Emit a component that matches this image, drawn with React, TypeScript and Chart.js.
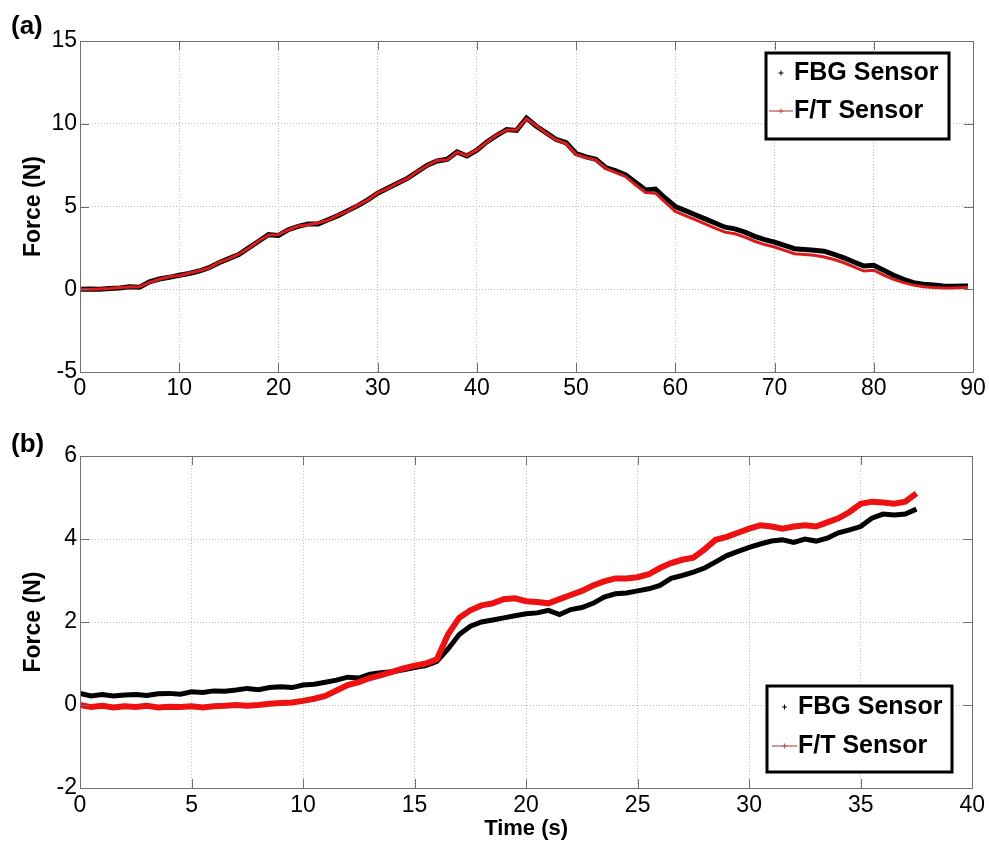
import React, { useEffect, useRef } from 'react';
import { Chart, registerables } from 'chart.js';

Chart.register(...registerables);

const FONT = "'Liberation Sans', Arial, Helvetica, sans-serif";

// ---------- Panel (a) data ----------
const timeA = [
  0, 1, 2, 3, 4, 5, 6, 7, 8, 9,
  10, 11, 12, 13, 14, 15, 16, 17, 18, 19,
  20, 21, 22, 23, 24, 25, 26, 27, 28, 29,
  30, 31, 32, 33, 34, 35, 36, 37, 38, 39,
  40, 41, 42, 43, 44, 45, 46, 47, 48, 49,
  50, 51, 52, 53, 54, 55, 56, 57, 58, 59,
  60, 61, 62, 63, 64, 65, 66, 67, 68, 69,
  70, 71, 72, 73, 74, 75, 76, 77, 78, 79,
  80, 81, 82, 83, 84, 85, 86, 87, 88, 89,
  89.5,
];
const fbgA = [
  0.0, 0.02, 0.0, 0.05, 0.08, 0.15, 0.12, 0.45, 0.62, 0.72,
  0.85, 0.95, 1.1, 1.3, 1.6, 1.85, 2.1, 2.5, 2.9, 3.3,
  3.25, 3.6, 3.8, 3.95, 3.95, 4.2, 4.45, 4.75, 5.05, 5.4,
  5.8, 6.1, 6.4, 6.7, 7.1, 7.5, 7.75, 7.85, 8.3, 8.05,
  8.4, 8.9, 9.3, 9.65, 9.6, 10.35, 9.85, 9.45, 9.05, 8.85,
  8.2, 8.0, 7.85, 7.35, 7.15, 6.9, 6.45, 6.0, 6.05, 5.5,
  5.0, 4.75, 4.5, 4.25, 4.0, 3.75, 3.65, 3.45, 3.2, 3.0,
  2.85, 2.65, 2.45, 2.4, 2.35, 2.3, 2.1, 1.9, 1.65, 1.4,
  1.45, 1.15, 0.85, 0.6, 0.4, 0.3, 0.25, 0.2, 0.18, 0.2,
  0.2,
];
const ftA = [
  0.0, 0.0, 0.02, 0.04, 0.1, 0.13, 0.15, 0.42, 0.6, 0.75,
  0.83, 0.97, 1.12, 1.28, 1.62, 1.83, 2.12, 2.48, 2.92, 3.28,
  3.3, 3.58, 3.82, 3.9, 4.0, 4.18, 4.48, 4.72, 5.08, 5.38,
  5.82, 6.08, 6.42, 6.68, 7.12, 7.48, 7.78, 7.82, 8.28, 8.08,
  8.42, 8.88, 9.32, 9.62, 9.62, 10.3, 9.88, 9.42, 9.02, 8.8,
  8.15, 7.95, 7.8, 7.3, 7.05, 6.8, 6.3, 5.85, 5.8, 5.25,
  4.7, 4.45, 4.2, 3.95, 3.7, 3.45, 3.35, 3.15, 2.9, 2.7,
  2.55, 2.35, 2.15, 2.1, 2.05, 1.95, 1.8, 1.6, 1.35, 1.1,
  1.15, 0.85, 0.6, 0.4, 0.25, 0.15, 0.1, 0.08, 0.08, 0.1,
  0.12,
];

// ---------- Panel (b) data ----------
const timeB = [
  0, 0.5, 1, 1.5, 2, 2.5, 3, 3.5, 4, 4.5,
  5, 5.5, 6, 6.5, 7, 7.5, 8, 8.5, 9, 9.5,
  10, 10.5, 11, 11.5, 12, 12.5, 13, 13.5, 14, 14.5,
  15, 15.5, 16, 16.5, 17, 17.5, 18, 18.5, 19, 19.5,
  20, 20.5, 21, 21.5, 22, 22.5, 23, 23.5, 24, 24.5,
  25, 25.5, 26, 26.5, 27, 27.5, 28, 28.5, 29, 29.5,
  30, 30.5, 31, 31.5, 32, 32.5, 33, 33.5, 34, 34.5,
  35, 35.5, 36, 36.5, 37, 37.5,
];
const fbgB = [
  0.28, 0.22, 0.25, 0.22, 0.24, 0.25, 0.23, 0.27, 0.28, 0.26,
  0.32, 0.3, 0.34, 0.33, 0.36, 0.4, 0.37, 0.42, 0.44, 0.42,
  0.48, 0.5, 0.55, 0.6, 0.67, 0.65, 0.74, 0.78, 0.8, 0.85,
  0.9, 0.95, 1.05, 1.35, 1.7, 1.9, 2.0, 2.05, 2.1, 2.15,
  2.2, 2.22, 2.28, 2.18, 2.3, 2.35, 2.45, 2.6, 2.68, 2.7,
  2.75, 2.8, 2.88, 3.05, 3.12, 3.2, 3.3, 3.45, 3.6, 3.7,
  3.8, 3.88, 3.95, 3.98, 3.92, 4.0, 3.95, 4.02, 4.15, 4.22,
  4.3, 4.5, 4.6, 4.58, 4.6, 4.72,
];
const ftB = [
  0.0, -0.05, -0.02, -0.06, -0.03, -0.05, -0.02, -0.06, -0.04, -0.05,
  -0.03, -0.06, -0.03, -0.02, 0.0, -0.02, 0.0, 0.03, 0.05, 0.06,
  0.1, 0.15, 0.22, 0.35, 0.48, 0.55, 0.65, 0.72, 0.8, 0.88,
  0.95, 1.0, 1.1, 1.7, 2.1, 2.28, 2.4, 2.45, 2.55, 2.57,
  2.5, 2.48, 2.45, 2.55, 2.65, 2.75, 2.88, 2.98, 3.05, 3.05,
  3.08, 3.15, 3.3, 3.42, 3.5, 3.55, 3.75, 3.98, 4.05, 4.15,
  4.25, 4.33, 4.3, 4.25, 4.3, 4.33, 4.3, 4.4, 4.5, 4.65,
  4.85, 4.9, 4.88, 4.85, 4.9, 5.1,
];

const seriesNames = ['FBG Sensor', 'F/T Sensor'];

const toPoints = (xs: number[], ys: number[]) => xs.map((x, i) => ({ x, y: ys[i] }));

// Box around the axes plus MATLAB-style inward tick marks on all four sides
const frameTicksPlugin = {
  id: 'frameTicks',
  afterDatasetsDraw(chart: any) {
    const { ctx, chartArea: a, scales } = chart;
    const L = 9;
    ctx.save();
    ctx.strokeStyle = '#707070';
    ctx.lineWidth = 1;
    ctx.setLineDash([]);
    ctx.beginPath();
    scales.x.ticks.forEach((t: any) => {
      const px = Math.round(scales.x.getPixelForValue(t.value)) + 0.5;
      ctx.moveTo(px, a.bottom); ctx.lineTo(px, a.bottom - L);
      ctx.moveTo(px, a.top); ctx.lineTo(px, a.top + L);
    });
    scales.y.ticks.forEach((t: any) => {
      const py = Math.round(scales.y.getPixelForValue(t.value)) + 0.5;
      ctx.moveTo(a.left, py); ctx.lineTo(a.left + L, py);
      ctx.moveTo(a.right, py); ctx.lineTo(a.right - L, py);
    });
    ctx.stroke();
    ctx.strokeRect(Math.round(a.left) + 0.5, Math.round(a.top) + 0.5,
      Math.round(a.right - a.left), Math.round(a.bottom - a.top));
    ctx.restore();
  },
};

// Boxed legend inside the axes
const boxLegendPlugin = {
  id: 'boxLegend',
  afterDraw(chart: any, _args: any, opts: any) {
    if (!opts || !opts.width) return;
    const { ctx } = chart;
    const { left, top, width, height, textX, rows, swatchX0, swatchX1 } = opts;
    ctx.save();
    ctx.fillStyle = '#ffffff';
    ctx.fillRect(left, top, width, height);
    ctx.lineWidth = 3;
    ctx.strokeStyle = '#000000';
    ctx.strokeRect(left, top, width, height);
    ctx.font = `bold 25px ${FONT}`;
    ctx.textBaseline = 'middle';
    ctx.textAlign = 'left';
    chart.data.datasets.forEach((ds: any, i: number) => {
      const y = rows[i];
      const mid = (swatchX0 + swatchX1) / 2;
      if (ds.legendKind === 'line') {
        ctx.strokeStyle = ds.legendColor;
        ctx.lineWidth = 1.2;
        ctx.beginPath();
        ctx.moveTo(swatchX0, y); ctx.lineTo(swatchX1, y);
        ctx.stroke();
      }
      ctx.strokeStyle = ds.legendColor;
      ctx.lineWidth = 1;
      ctx.beginPath();
      ctx.moveTo(mid - 2.5, y); ctx.lineTo(mid + 2.5, y);
      ctx.moveTo(mid, y - 2.5); ctx.lineTo(mid, y + 2.5);
      ctx.stroke();
      ctx.fillStyle = '#000';
      ctx.fillText(ds.label, textX, y);
    });
    ctx.restore();
  },
};

type PanelOpts = {
  xs: number[];
  fbg: number[];
  ft: number[];
  xMax: number;
  xStep: number;
  yMin: number;
  yMax: number;
  yStep: number;
  padTop: number;
  xAxisHeight: number;
  xTickPad: number;
  xTitle: string | null;
  fbgWidth: number;
  ftWidth: number;
  ftColor: string;
  legend: any;
};

function makeConfig(p: PanelOpts): any {
  return {
    type: 'line',
    data: {
      datasets: [
        {
          label: seriesNames[0],
          data: toPoints(p.xs, p.fbg),
          borderColor: '#000000',
          borderWidth: p.fbgWidth,
          pointRadius: 0,
          tension: 0,
          order: 1,
          legendKind: 'marker',
          legendColor: '#000000',
        },
        {
          label: seriesNames[1],
          data: toPoints(p.xs, p.ft),
          borderColor: p.ftColor,
          borderWidth: p.ftWidth,
          pointRadius: 0,
          tension: 0,
          order: 0,
          legendKind: 'line',
          legendColor: '#c0504d',
        },
      ],
    },
    options: {
      responsive: false,
      animation: false,
      devicePixelRatio: 1,
      layout: { padding: { top: p.padTop, right: 16, left: 0, bottom: 0 } },
      plugins: {
        legend: { display: false },
        tooltip: { enabled: false },
        boxLegend: p.legend,
      },
      scales: {
        x: {
          type: 'linear',
          min: 0,
          max: p.xMax,
          afterFit: (s: any) => { s.height = p.xAxisHeight; },
          ticks: {
            stepSize: p.xStep,
            autoSkip: false,
            maxRotation: 0,
            padding: p.xTickPad,
            color: '#000',
            font: { family: FONT, size: 23 },
          },
          grid: { color: '#bdbdbd', lineWidth: 1, drawTicks: false },
          border: { display: false, dash: [1, 2] },
          title: p.xTitle
            ? {
                display: true,
                text: p.xTitle,
                color: '#000',
                font: { family: FONT, size: 22, weight: 'bold' },
                padding: { top: 0, bottom: 0 },
              }
            : { display: false },
        },
        y: {
          type: 'linear',
          min: p.yMin,
          max: p.yMax,
          afterFit: (s: any) => { s.width = 80; },
          ticks: {
            stepSize: p.yStep,
            autoSkip: false,
            padding: 3,
            color: '#000',
            font: { family: FONT, size: 23 },
          },
          grid: { color: '#bdbdbd', lineWidth: 1, drawTicks: false },
          border: { display: false, dash: [1, 2] },
          title: {
            display: true,
            text: 'Force (N)',
            color: '#000',
            font: { family: FONT, size: 23, weight: 'bold' },
            padding: { top: 20, bottom: 0 },
          },
        },
      },
    },
    plugins: [frameTicksPlugin, boxLegendPlugin],
  };
}

function Panel({ top, height, config }: { top: number; height: number; config: any }) {
  const ref = useRef<HTMLCanvasElement | null>(null);
  useEffect(() => {
    if (!ref.current) return;
    const chart = new Chart(ref.current, config);
    return () => chart.destroy();
  }, [config]);
  return (
    <canvas
      ref={ref}
      width={989}
      height={height}
      style={{ position: 'absolute', left: 0, top, width: 989, height }}
    />
  );
}

const configA = makeConfig({
  xs: timeA, fbg: fbgA, ft: ftA,
  xMax: 90, xStep: 10, yMin: -5, yMax: 15, yStep: 5,
  padTop: 41, xAxisHeight: 33, xTickPad: 3, xTitle: null,
  fbgWidth: 5, ftWidth: 3, ftColor: '#d81c1c',
  legend: { left: 766, top: 53, width: 183, height: 86, textX: 794, rows: [73, 111], swatchX0: 769, swatchX1: 793 },
});

const configB = makeConfig({
  xs: timeB, fbg: fbgB, ft: ftB,
  xMax: 40, xStep: 5, yMin: -2, yMax: 6, yStep: 2,
  padTop: 51, xAxisHeight: 54, xTickPad: 4, xTitle: 'Time (s)',
  fbgWidth: 5, ftWidth: 6, ftColor: '#ee1111',
  legend: { left: 767, top: 281, width: 185, height: 86, textX: 798, rows: [302, 341], swatchX0: 772, swatchX1: 797 },
});

const labelStyle: React.CSSProperties = {
  position: 'absolute',
  left: 11,
  fontFamily: FONT,
  fontWeight: 'bold',
  fontSize: 26,
  lineHeight: '26px',
  color: '#000',
};

export default function App() {
  return (
    <div style={{ position: 'absolute', left: 0, top: 0, width: 989, height: 842, background: '#fff', overflow: 'hidden' }}>
      <Panel top={0} height={405} config={configA} />
      <Panel top={405} height={437} config={configB} />
      <div style={{ ...labelStyle, top: 12 }}>(a)</div>
      <div style={{ ...labelStyle, top: 430 }}>(b)</div>
    </div>
  );
}
